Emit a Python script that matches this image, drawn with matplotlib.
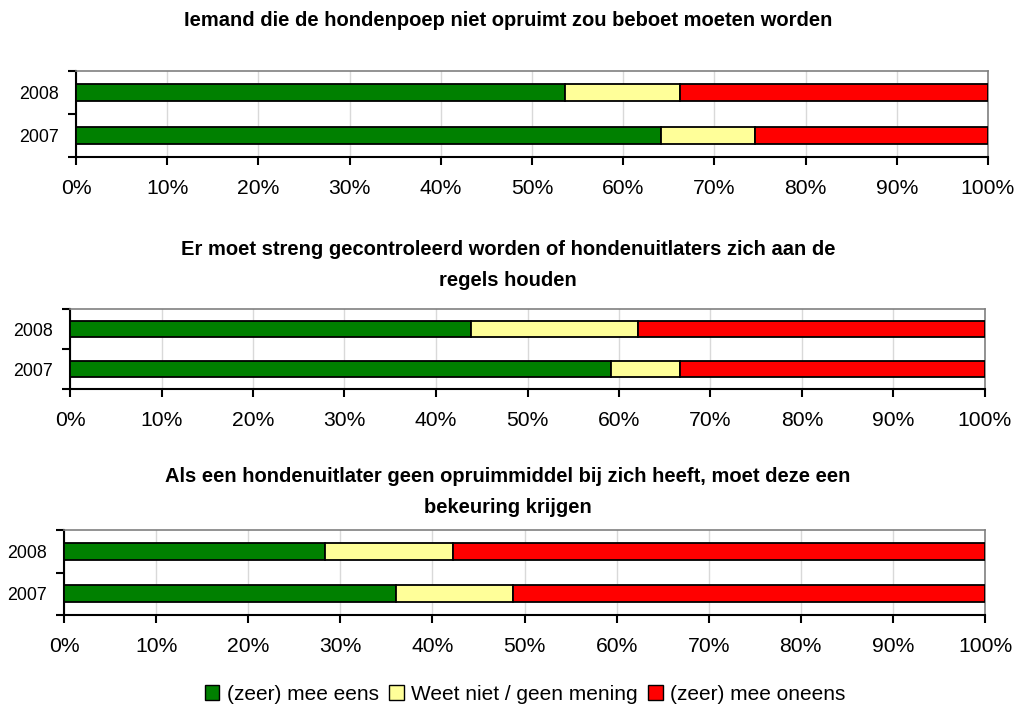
import matplotlib
matplotlib.use("Agg")
import matplotlib.pyplot as plt
from matplotlib.patches import Patch

plt.rcParams['font.family'] = ['Liberation Sans', 'DejaVu Sans']

years = ["2007", "2008"]
categories = ["(zeer) mee eens", "Weet niet / geen mening", "(zeer) mee oneens"]
colors = ["#008000", "#FFFF99", "#FF0000"]

titles = [
    "Iemand die de hondenpoep niet opruimt zou beboet moeten worden",
    "Er moet streng gecontroleerd worden of hondenuitlaters zich aan de\nregels houden",
    "Als een hondenuitlater geen opruimmiddel bij zich heeft, moet deze een\nbekeuring krijgen",
]

# percentages per chart, order: 2007, 2008
eens = [[64.1, 53.6], [59.1, 43.8], [36.1, 28.3]]
weet_niet = [[10.3, 12.6], [7.6, 18.3], [12.6, 13.9]]
oneens = [[100 - e - w for e, w in zip(ee, ww)] for ee, ww in zip(eens, weet_niet)]

xticks = list(range(0, 101, 10))
xlabels = [f"{v}%" for v in xticks]

W, H = 1016, 710
fig = plt.figure(figsize=(W / 100, H / 100), dpi=100)

# axes boxes in pixels: left, top, right, bottom
boxes = [(76, 71, 988, 157), (70, 309, 985, 389), (64, 530, 985, 615)]
title_y = [20, 265, 492]

for i, (l, t, r, b) in enumerate(boxes):
    ax = fig.add_axes([l / W, 1 - b / H, (r - l) / W, (b - t) / H])
    ys = [0, 1]
    left = [0, 0]
    for vals, c in zip([eens[i], weet_niet[i], oneens[i]], colors):
        ax.barh(ys, vals, left=left, height=0.4, color=c,
                edgecolor="black", linewidth=1.3, zorder=3)
        left = [a + v for a, v in zip(left, vals)]
    ax.set_xlim(0, 100)
    ax.set_ylim(-0.5, 1.5)
    ax.set_xticks(xticks)
    ax.set_xticklabels(xlabels, fontsize=15.2)
    ax.set_yticks(ys)
    ax.set_yticklabels(years, fontsize=12.8)
    ax.tick_params(axis="y", length=0, pad=12)
    ax.set_yticks([-0.5, 0.5, 1.5], minor=True)
    ax.tick_params(axis="y", which="minor", length=6, width=1.5, direction="out")
    ax.tick_params(axis="x", length=6, width=1.5, direction="out", pad=10)
    ax.grid(axis="x", color="#D9D9D9", linewidth=1, linestyle="-", zorder=0)
    for s in ["top", "right"]:
        ax.spines[s].set_color("#808080")
        ax.spines[s].set_linewidth(1.2)
    for s in ["left", "bottom"]:
        ax.spines[s].set_color("black")
        ax.spines[s].set_linewidth(1.5)
    fig.text(508 / W, 1 - title_y[i] / H, titles[i], ha="center", va="center",
             fontsize=14.5, fontweight="bold", linespacing=1.8)

handles = [Patch(facecolor=c, edgecolor="black", linewidth=1) for c in colors]
fig.legend(handles, categories, loc="center", bbox_to_anchor=(525 / W, 1 - 694 / H),
           ncol=3, frameon=False, fontsize=15, handlelength=0.7, handleheight=0.7,
           handletextpad=0.35, columnspacing=0.5)

fig.savefig("out.png", dpi=100)
